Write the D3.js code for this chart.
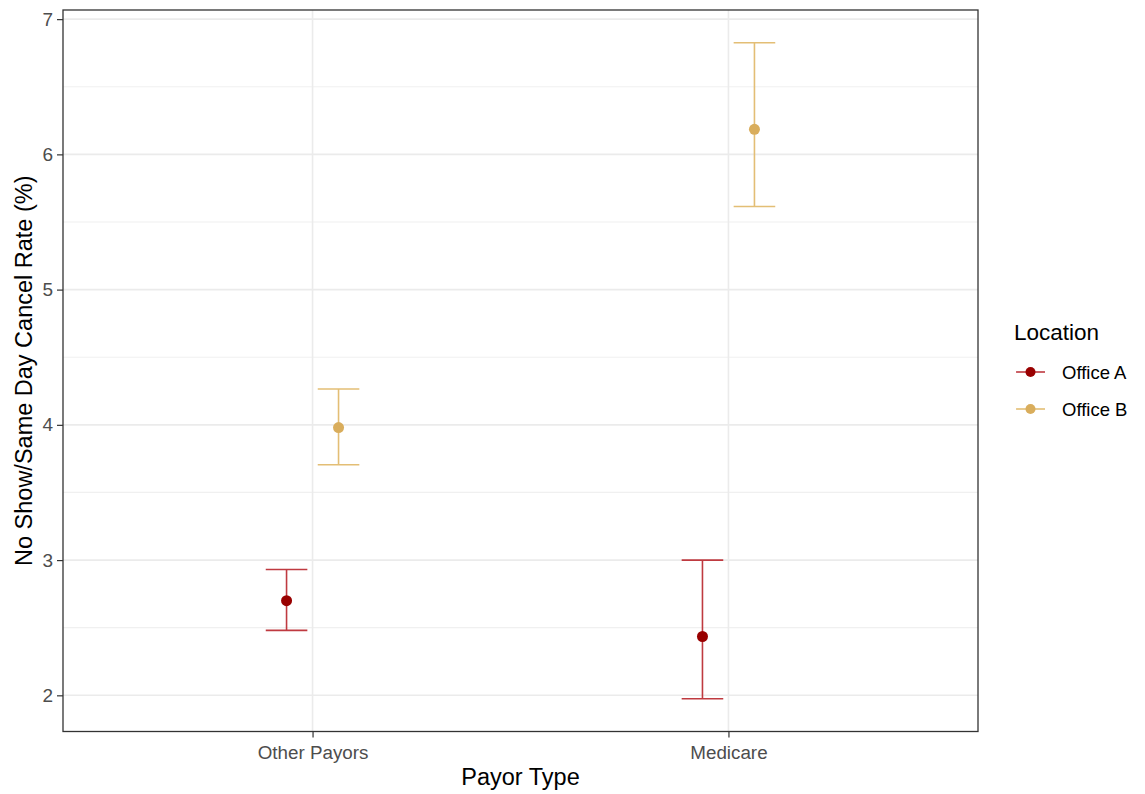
<!DOCTYPE html>
<html>
<head>
<meta charset="utf-8">
<script src="https://cdn.jsdelivr.net/npm/d3@7"></script>
<style>
  body { margin: 0; background: #fff; }
  svg { font-family: "Liberation Sans", Arial, sans-serif; }
</style>
</head>
<body>
<svg id="chart" width="1145" height="794"></svg>
<script>
// Payor categories and office series
const payors = ["Other Payors", "Medicare"];
const locations = ["Office A", "Office B"];
const officeA_rate  = [2.70, 2.435];
const officeA_lower = [2.48, 1.975];
const officeA_upper = [2.93, 3.00];
const officeB_rate  = [3.98, 6.185];
const officeB_lower = [3.705, 5.615];
const officeB_upper = [4.265, 6.825];
const yTicks = [2, 3, 4, 5, 6, 7];
const yMinor = [2.5, 3.5, 4.5, 5.5, 6.5];

const colors = { "Office A": "#990000", "Office B": "#D9AD5C" };
const barColors = { "Office A": "#BF3A40", "Office B": "#E3BE75" };

const rows = [];
payors.forEach((p, i) => {
  rows.push({ payor: p, loc: "Office A", v: officeA_rate[i], lo: officeA_lower[i], hi: officeA_upper[i] });
  rows.push({ payor: p, loc: "Office B", v: officeB_rate[i], lo: officeB_lower[i], hi: officeB_upper[i] });
});

const svg = d3.select("#chart");
const panel = { left: 63, right: 978, top: 10, bottom: 731.5 };

// discrete axis with ggplot-style 0.6 expansion
const xc = d3.scaleLinear().domain([0.4, 2.6]).range([panel.left, panel.right]);
const xPos = p => xc(payors.indexOf(p) + 1);
const dodge = d3.scaleBand().domain(locations).range([-0.125, 0.125]);
const xMark = d => xc(payors.indexOf(d.payor) + 1 + dodge(d.loc) + dodge.bandwidth() / 2);

const allVals = rows.flatMap(r => [r.lo, r.hi]);
const lo = d3.min(allVals), hi = d3.max(allVals), pad = (hi - lo) * 0.05;
const y = d3.scaleLinear().domain([lo - pad, hi + pad]).range([panel.bottom, panel.top]);

const g = svg.append("g");

// grid
g.selectAll("line.minor").data(yMinor).join("line")
  .attr("x1", panel.left).attr("x2", panel.right)
  .attr("y1", d => y(d)).attr("y2", d => y(d))
  .attr("stroke", "#F0F0F0").attr("stroke-width", 1.2);
g.selectAll("line.major").data(yTicks).join("line")
  .attr("x1", panel.left).attr("x2", panel.right)
  .attr("y1", d => y(d)).attr("y2", d => y(d))
  .attr("stroke", "#EBEBEB").attr("stroke-width", 1.6);
g.selectAll("line.vmajor").data(payors).join("line")
  .attr("x1", d => xPos(d)).attr("x2", d => xPos(d))
  .attr("y1", panel.top).attr("y2", panel.bottom)
  .attr("stroke", "#EBEBEB").attr("stroke-width", 1.6);

// error bars
const capHalf = (xc(1.05) - xc(1));
const eb = g.selectAll("g.eb").data(rows).join("g")
  .attr("stroke", d => barColors[d.loc]).attr("stroke-width", 1.6).attr("fill", "none");
eb.append("line").attr("x1", xMark).attr("x2", xMark)
  .attr("y1", d => y(d.lo)).attr("y2", d => y(d.hi));
eb.append("line").attr("x1", d => xMark(d) - capHalf).attr("x2", d => xMark(d) + capHalf)
  .attr("y1", d => y(d.hi)).attr("y2", d => y(d.hi));
eb.append("line").attr("x1", d => xMark(d) - capHalf).attr("x2", d => xMark(d) + capHalf)
  .attr("y1", d => y(d.lo)).attr("y2", d => y(d.lo));

// points
g.selectAll("circle.pt").data(rows).join("circle")
  .attr("cx", xMark).attr("cy", d => y(d.v)).attr("r", 5.5)
  .attr("fill", d => colors[d.loc]);

// panel border
svg.append("rect")
  .attr("x", panel.left).attr("y", panel.top)
  .attr("width", panel.right - panel.left).attr("height", panel.bottom - panel.top)
  .attr("fill", "none").attr("stroke", "#333333").attr("stroke-width", 1.3);

// axes
const yAxis = svg.append("g").attr("transform", `translate(${panel.left},0)`)
  .call(d3.axisLeft(y).tickValues(yTicks).tickFormat(d3.format("d")).tickSize(6).tickPadding(4));
yAxis.select(".domain").remove();
yAxis.selectAll("line").attr("stroke", "#333").attr("stroke-width", 1.2);
yAxis.selectAll("text").attr("fill", "#4D4D4D").style("font-size", "19px");

const xAxis = svg.append("g").attr("transform", `translate(0,${panel.bottom})`)
  .call(d3.axisBottom(xc).tickValues([1, 2]).tickFormat(i => payors[i - 1]).tickSize(6).tickPadding(8));
xAxis.select(".domain").remove();
xAxis.selectAll("line").attr("stroke", "#333").attr("stroke-width", 1.2);
xAxis.selectAll("text").attr("fill", "#4D4D4D").style("font-size", "18.8px");

// axis titles
svg.append("text").attr("x", (panel.left + panel.right) / 2).attr("y", 785)
  .attr("text-anchor", "middle").style("font-size", "23.5px").attr("fill", "#000")
  .text("Payor Type");
svg.append("text")
  .attr("transform", `translate(32,${(panel.top + panel.bottom) / 2}) rotate(-90)`)
  .attr("text-anchor", "middle").style("font-size", "23.5px").attr("fill", "#000")
  .text("No Show/Same Day Cancel Rate (%)");

// legend
const leg = svg.append("g").attr("transform", "translate(1014,0)");
leg.append("text").attr("x", 0).attr("y", 340).style("font-size", "22.5px").attr("fill", "#000").text("Location");
const items = leg.selectAll("g.item").data(locations).join("g")
  .attr("transform", (d, i) => `translate(0,${372 + i * 37})`);
items.append("line").attr("x1", 2).attr("x2", 31).attr("y1", 0).attr("y2", 0)
  .attr("stroke", d => barColors[d]).attr("stroke-width", 1.6);
items.append("circle").attr("cx", 16.5).attr("cy", 0).attr("r", 5).attr("fill", d => colors[d]);
items.append("text").attr("x", 48).attr("y", 6.5).style("font-size", "18.5px").attr("fill", "#000").text(d => d);
</script>
</body>
</html>
